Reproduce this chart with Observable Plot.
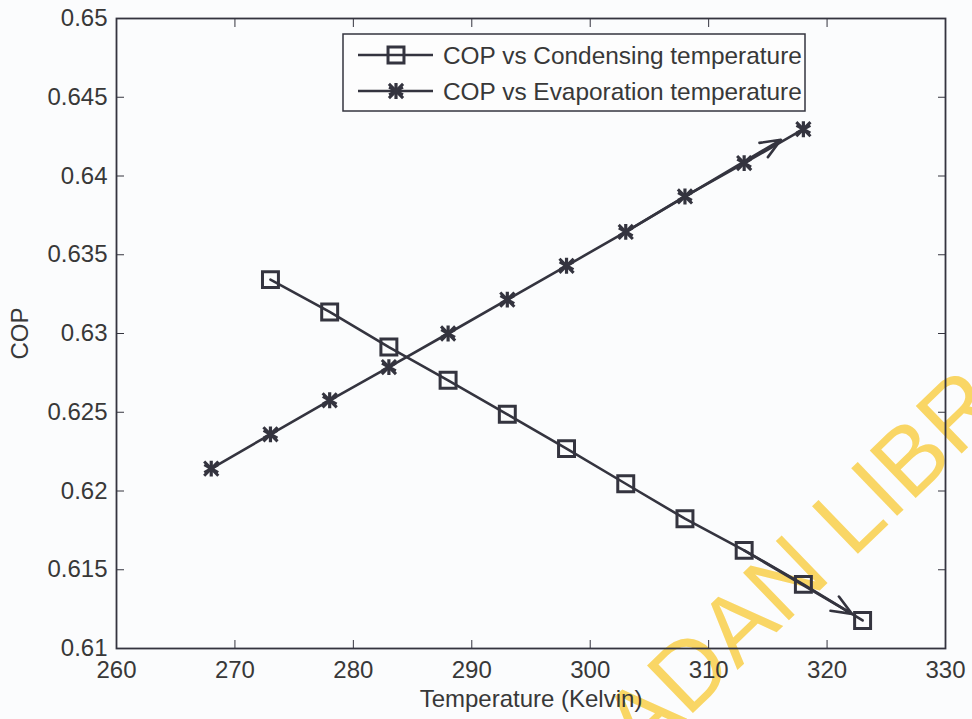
<!DOCTYPE html>
<html><head><meta charset="utf-8">
<script src="https://cdn.jsdelivr.net/npm/d3@7"></script>
<script src="https://cdn.jsdelivr.net/npm/@observablehq/plot@0.6"></script>
<style>
html,body{margin:0;padding:0;background:#fbfcfd;}
#chart{position:relative;width:972px;height:719px;}
</style></head><body><div id="chart"></div>
<script>
// ---- data ----
const condTemp = [273, 278, 283, 288, 293, 298, 303, 308, 313, 318, 323];
const condCOP  = [0.63342, 0.63137, 0.62914, 0.62703, 0.62487, 0.62269, 0.62046, 0.61824, 0.61623, 0.61407, 0.61178];
const evapTemp = [268, 273, 278, 283, 288, 293, 298, 303, 308, 313, 318];
const evapCOP  = [0.62142, 0.62360, 0.62576, 0.62787, 0.63000, 0.63215, 0.63430, 0.63645, 0.63870, 0.64082, 0.64297];
const seriesNames = ["COP vs Condensing temperature", "COP vs Evaporation temperature"];
const xTicks = [260, 270, 280, 290, 300, 310, 320, 330];
const yTicks = [0.61, 0.615, 0.62, 0.625, 0.63, 0.635, 0.64, 0.645, 0.65];
const arrowX1 = [313, 303];
const arrowY1 = [0.61623, 0.63645];
const arrowX2 = [322.1, 316.1];
const arrowY2 = [0.6122, 0.6423];
const xLabel = "Temperature (Kelvin)";
const yLabel = "COP";
const watermark = "IBADAN LIBRARY";

const ink = "#34343f";
const textColor = "#383838";
const font = "'Liberation Sans', Arial, Helvetica, sans-serif";

const cond = condTemp.map((t, i) => ({t, cop: condCOP[i]}));
const evap = evapTemp.map((t, i) => ({t, cop: evapCOP[i]}));
const arrows = arrowX1.map((x, i) => ({x1: x, y1: arrowY1[i], x2: arrowX2[i], y2: arrowY2[i]}));
const fmt = d => String(+d.toFixed(3));

const plot = Plot.plot({
  width: 972, height: 719,
  marginLeft: 116, marginRight: 27, marginTop: 18, marginBottom: 71,
  style: {background: "transparent", fontFamily: font, fontSize: "24px", color: textColor, overflow: "visible"},
  x: {domain: [260, 330]},
  y: {domain: [0.61, 0.65]},
  marks: [
    Plot.axisX({ticks: xTicks, tickSize: -8, tickPadding: 20, tickFormat: d => String(d), label: null, fontSize: 24, stroke: ink}),
    Plot.axisX({anchor: "top", ticks: xTicks, tickSize: -8, tickFormat: () => "", label: null, stroke: ink}),
    Plot.axisY({ticks: yTicks, tickSize: -8, tickPadding: 17, tickFormat: fmt, label: null, fontSize: 24, stroke: ink}),
    Plot.axisY({anchor: "right", ticks: yTicks, tickSize: -8, tickFormat: () => "", label: null, stroke: ink}),
    Plot.frame({stroke: ink, strokeWidth: 1.8}),
    Plot.text([yLabel], {frameAnchor: "left", dx: -96, rotate: -90, textAnchor: "middle", lineAnchor: "middle", fontSize: 24, fill: textColor}),
    Plot.text([xLabel], {frameAnchor: "bottom", dy: 51, textAnchor: "middle", lineAnchor: "middle", fontSize: 24, fill: textColor}),
    Plot.line(cond, {x: "t", y: "cop", stroke: ink, strokeWidth: 2.6}),
    Plot.line(evap, {x: "t", y: "cop", stroke: ink, strokeWidth: 2.6}),
    Plot.arrow(arrows, {x1: "x1", y1: "y1", x2: "x2", y2: "y2", stroke: ink, strokeWidth: 2.6, headAngle: 45, headLength: 12.5}),
    Plot.dot(cond, {x: "t", y: "cop", symbol: "square", r: 9, stroke: ink, strokeWidth: 3, fill: "none"}),
    Plot.dot(evap, {x: "t", y: "cop", symbol: "asterisk", r: 7.5, stroke: ink, strokeWidth: 3.2}),
    Plot.dot(evap, {x: "t", y: "cop", symbol: "times", r: 6.5, stroke: ink, strokeWidth: 3})
  ]
});
document.getElementById("chart").appendChild(plot);

// watermark (behind everything)
const svg = d3.select(plot);
svg.insert("text", ":first-child")
  .attr("transform", "translate(576,826) rotate(-44)")
  .attr("text-anchor", "start")
  .attr("font-family", font)
  .attr("font-size", 96)
  .attr("fill", "#f9d665")
  .text(watermark);

// legend (MATLAB-style box)
const lg = svg.append("g").attr("text-anchor", "start");
lg.append("rect").attr("x", 343).attr("y", 34).attr("width", 462).attr("height", 77)
  .attr("fill", "#fdfdfd").attr("stroke", ink).attr("stroke-width", 1.5);
const sqPath = d3.symbol(d3.symbolSquare, 9 * 9 * Math.PI)();
const astPath = d3.symbol(d3.symbolAsterisk, 7.5 * 7.5 * Math.PI)();
const timesPath = d3.symbol(d3.symbolTimes, 6.5 * 6.5 * Math.PI)();
[55, 91].forEach((y, i) => {
  lg.append("line").attr("x1", 358).attr("x2", 433).attr("y1", y).attr("y2", y)
    .attr("stroke", ink).attr("stroke-width", 2.6);
  if (i === 0) {
    lg.append("path").attr("d", sqPath).attr("transform", `translate(396,${y})`)
      .attr("fill", "none").attr("stroke", ink).attr("stroke-width", 3);
  } else {
    lg.append("path").attr("d", astPath).attr("transform", `translate(396,${y})`)
      .attr("fill", "none").attr("stroke", ink).attr("stroke-width", 3.2);
    lg.append("path").attr("d", timesPath).attr("transform", `translate(396,${y})`)
      .attr("fill", "none").attr("stroke", ink).attr("stroke-width", 3);
  }
  lg.append("text").attr("x", 443).attr("y", y).attr("dy", "0.35em")
    .attr("text-anchor", "start")
    .attr("font-family", font).attr("font-size", 24.4).attr("fill", textColor)
    .text(seriesNames[i]);
});
</script>
</body></html>
